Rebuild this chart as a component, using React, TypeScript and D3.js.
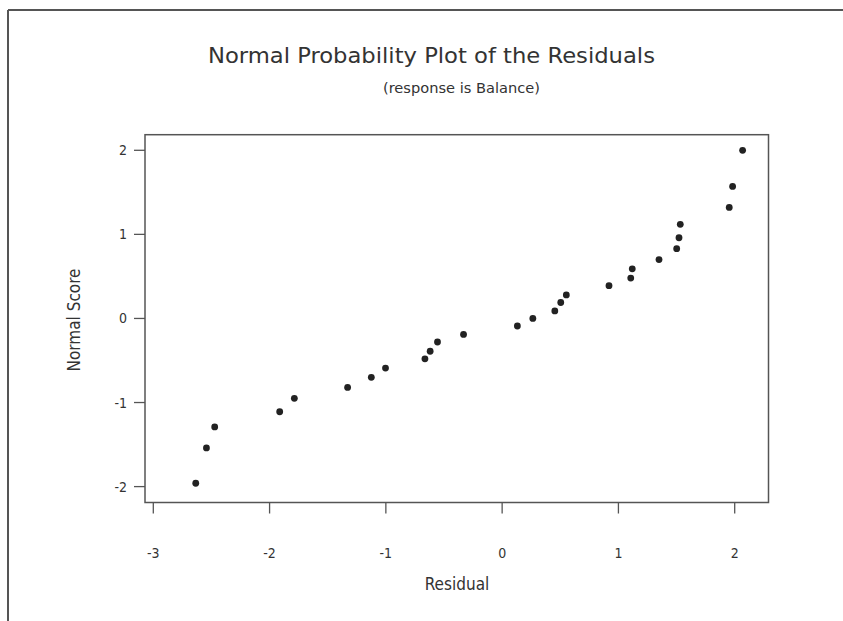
import React from "react";
import * as d3 from "d3";

const residuals: number[] = [
  -2.635, -2.543, -2.472, -1.913, -1.787, -1.329, -1.125, -1.003, -0.664,
  -0.619, -0.556, -0.332, 0.131, 0.264, 0.453, 0.504, 0.552, 0.919, 1.106,
  1.119, 1.349, 1.501, 1.521, 1.532, 1.953, 1.982, 2.068,
];
const normalScores: number[] = [
  -1.96, -1.54, -1.29, -1.11, -0.95, -0.82, -0.7, -0.59, -0.48, -0.39, -0.28,
  -0.19, -0.09, 0.0, 0.09, 0.19, 0.28, 0.39, 0.48, 0.59, 0.7, 0.83, 0.96, 1.12,
  1.32, 1.57, 2.0,
];
const xTicks: number[] = [-3, -2, -1, 0, 1, 2];
const yTicks: number[] = [-2, -1, 0, 1, 2];
const titleText = "Normal Probability Plot of the Residuals";
const subtitleText = "(response is Balance)";
const xLabel = "Residual";
const yLabel = "Normal Score";

const W = 843;
const H = 621;
const box = { left: 145, right: 768.5, top: 134.7, bottom: 502.5 };

export default function App() {
  const x = d3.scaleLinear().domain([-3, 2]).range([153.3, 734.7]);
  const y = d3.scaleLinear().domain([-2, 2]).range([486.6, 150.3]);
  const font = "'DejaVu Sans Condensed', 'DejaVu Sans', sans-serif";
  const axisColor = "#555";
  const textColor = "#333";

  return (
    <svg
      width={W}
      height={H}
      viewBox={`0 0 ${W} ${H}`}
      style={{ position: "absolute", left: 0, top: 0, background: "#fff" }}
      fontFamily={font}
    >
      <rect x={0} y={0} width={W} height={H} fill="#fff" />
      <line x1={8} y1={10} x2={W} y2={10} stroke="#555" strokeWidth={2} />
      <line x1={8} y1={10} x2={8} y2={H} stroke="#555" strokeWidth={2} />

      <text
        x={431.5}
        y={63}
        textAnchor="middle"
        fontSize={22}
        fill={textColor}
        textLength={447}
        lengthAdjust="spacingAndGlyphs"
      >
        {titleText}
      </text>
      <text
        x={461.5}
        y={93}
        textAnchor="middle"
        fontSize={14}
        fill={textColor}
        textLength={157}
        lengthAdjust="spacingAndGlyphs"
      >
        {subtitleText}
      </text>

      <rect
        x={box.left}
        y={box.top}
        width={box.right - box.left}
        height={box.bottom - box.top}
        fill="none"
        stroke={axisColor}
        strokeWidth={1.5}
      />

      {xTicks.map((t) => (
        <g key={`xt${t}`}>
          <line
            x1={x(t)}
            x2={x(t)}
            y1={box.bottom}
            y2={box.bottom + 11}
            stroke={axisColor}
            strokeWidth={1.3}
          />
          <text
            x={x(t)}
            y={558}
            textAnchor="middle"
            fontSize={14}
            fill={textColor}
          >
            {String(t)}
          </text>
        </g>
      ))}

      {yTicks.map((t) => (
        <g key={`yt${t}`}>
          <line
            x1={box.left - 11}
            x2={box.left}
            y1={y(t)}
            y2={y(t)}
            stroke={axisColor}
            strokeWidth={1.3}
          />
          <text
            x={127}
            y={y(t) + 5}
            textAnchor="end"
            fontSize={14}
            fill={textColor}
          >
            {String(t)}
          </text>
        </g>
      ))}

      <text
        x={457}
        y={590}
        textAnchor="middle"
        fontSize={17}
        fill={textColor}
      >
        {xLabel}
      </text>
      <text
        transform={`translate(80, 320) rotate(-90)`}
        textAnchor="middle"
        fontSize={17}
        fill={textColor}
      >
        {yLabel}
      </text>

      {residuals.map((r, i) => (
        <circle
          key={`p${i}`}
          cx={x(r)}
          cy={y(normalScores[i])}
          r={3.4}
          fill="#222"
        />
      ))}
    </svg>
  );
}
